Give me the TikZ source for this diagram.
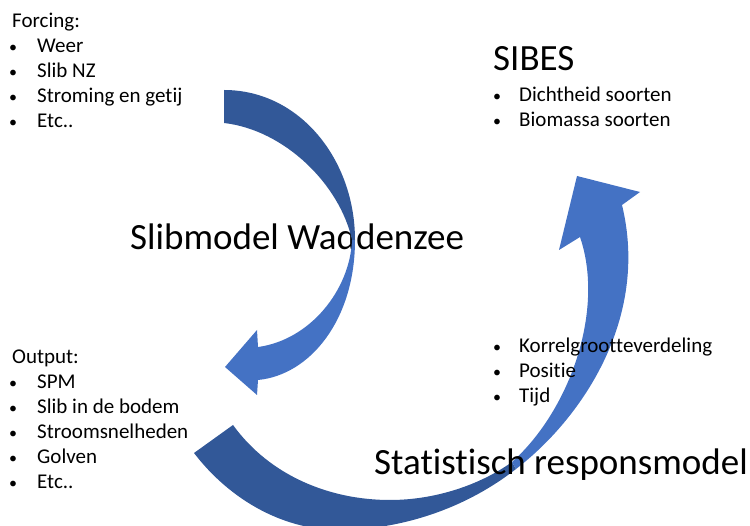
\documentclass[tikz,border=0pt]{standalone}
\usepackage{fontspec}
\setmainfont{Carlito}[Ligatures={NoCommon,NoRare,NoContextual}]
\definecolor{arrdark}{RGB}{50,88,152}
\definecolor{arrlight}{RGB}{68,114,196}
\tikzset{
  small/.style={font=\fontsize{21}{25}\selectfont, anchor=base west, inner sep=0pt},
  big/.style={font=\fontsize{37}{44}\selectfont, anchor=base west, inner sep=0pt},
  bul/.style={font=\fontsize{16}{25}\selectfont, anchor=base, inner sep=0pt, yshift=0.5pt},
  backpart/.style={fill=arrdark},
  frontpart/.style={fill=arrlight},
}
\begin{document}
\begin{tikzpicture}[x=1pt,y=-1pt]
\useasboundingbox (0,0) rectangle (750,526);
% title of the upper arrow (drawn below the arrow)
\node[big] (slib) at (130,250) {Slibmodel Waddenzee};
\begin{scope}
\clip (0,0) rectangle (750,526);
% upper curved arrow
\path[backpart] (224,90) .. controls (300,90) and (355,160) .. (355,240)
  -- (352,240) .. controls (340,185) and (285,130) .. (224,123) -- cycle;
\path[frontpart] (352,240) -- (355,240) .. controls (355,320) and (310,375) .. (258,380)
  -- (257,395) -- (225,367) -- (257,330) -- (258,347)
  .. controls (310,340) and (350,290) .. (352,240) -- cycle;
% lower curved arrow
\path[backpart] (233,425) .. controls (270,476) and (330,500) .. (390,500)
  .. controls (435,500) and (480,485) .. (512,462) -- (516,469)
  .. controls (470,505) and (410,528) .. (345,530)
  .. controls (285,532) and (230,500) .. (194,453) -- cycle;
\path[frontpart] (512,462) -- (516,469) .. controls (580,420) and (650,320) .. (622,205)
  -- (640,192) -- (577,176) -- (559,250) -- (580,237)
  .. controls (605,310) and (570,410) .. (512,462) -- cycle;
\end{scope}
% Forcing list
\node[small] (forc) at (12,28) {Forcing:};
\node[bul] (fb1) at (13,53) {•}; \node[small] (f1) at (37,53) {Weer};
\node[bul] (fb2) at (13,78) {•}; \node[small] (f2) at (37,78) {Slib NZ};
\node[bul] (fb3) at (13,103) {•}; \node[small] (f3) at (37,103) {Stroming en getij};
\node[bul] (fb4) at (13,128) {•}; \node[small] (f4) at (37,128) {Etc..};
% Output list
\node[small] (outp) at (12,364) {Output:};
\node[bul] (ob1) at (13,389) {•}; \node[small] (o1) at (37,389) {SPM};
\node[bul] (ob2) at (13,414) {•}; \node[small] (o2) at (37,414) {Slib in de bodem};
\node[bul] (ob3) at (13,439) {•}; \node[small] (o3) at (37,439) {Stroomsnelheden};
\node[bul] (ob4) at (13,464) {•}; \node[small] (o4) at (37,464) {Golven};
\node[bul] (ob5) at (13,489) {•}; \node[small] (o5) at (37,489) {Etc..};
% SIBES
\node[big] (sibes) at (493,71) {SIBES};
\node[bul] (sb1) at (497,102) {•}; \node[small] (s1) at (519,102) {Dichtheid soorten};
\node[bul] (sb2) at (497,127) {•}; \node[small] (s2) at (519,127) {Biomassa soorten};
% statistical model inputs
\node[bul] (kb1) at (497,353) {•}; \node[small] (k1) at (519,353) {Korrelgrootteverdeling};
\node[bul] (kb2) at (497,378) {•}; \node[small] (k2) at (519,378) {Positie};
\node[bul] (kb3) at (497,403) {•}; \node[small] (k3) at (519,403) {Tijd};
\node[big] (stat) at (374,475) {Statistisch responsmodel};
\end{tikzpicture}
\end{document}
